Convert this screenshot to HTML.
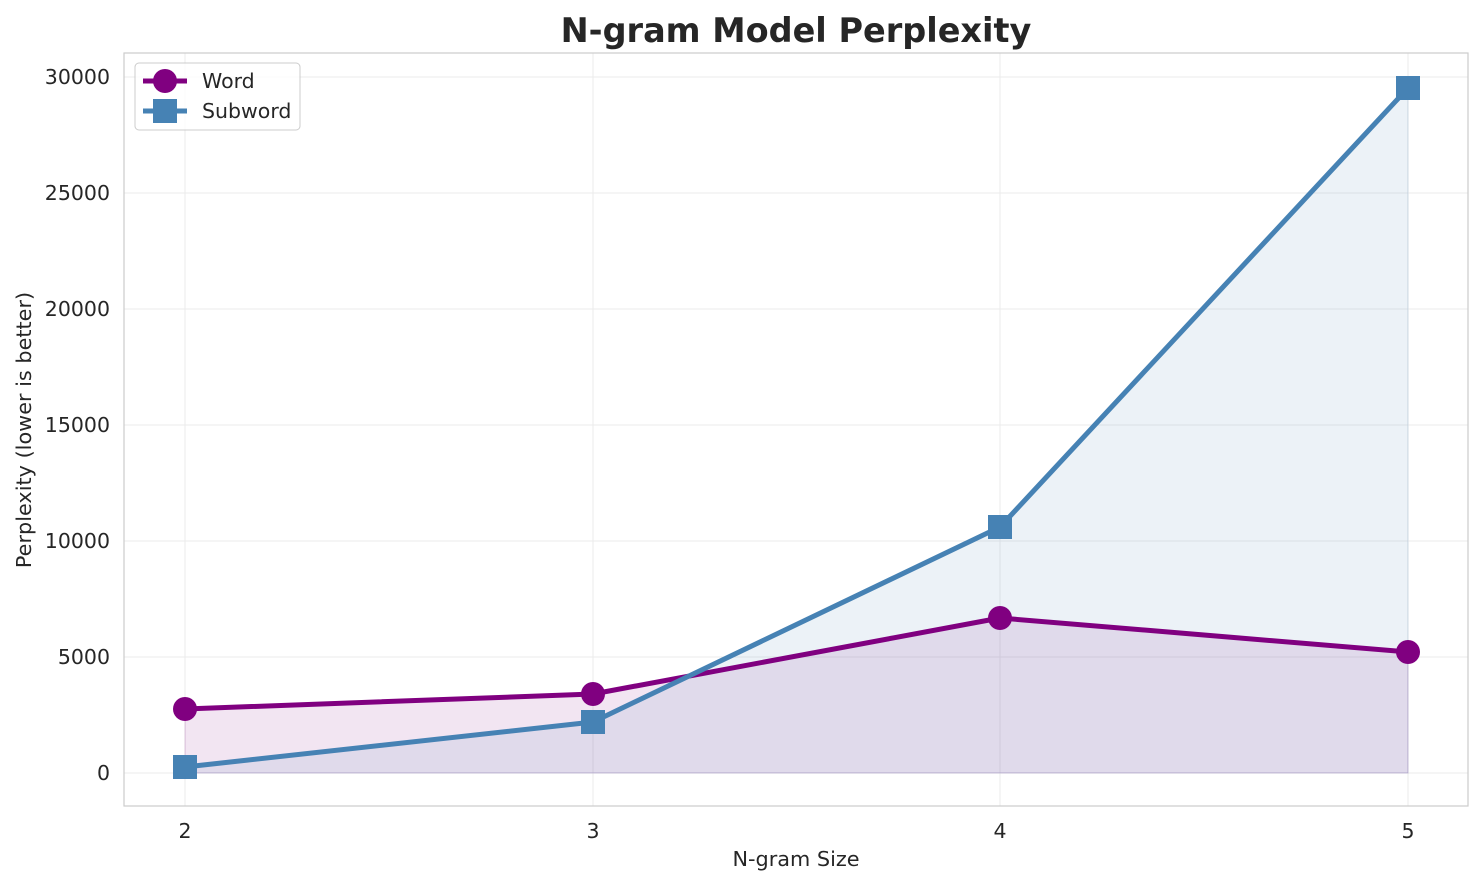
<!DOCTYPE html>
<html><head><style>body{margin:0;background:#fff}</style></head><body>
<svg width="1484" height="885" xmlns="http://www.w3.org/2000/svg" font-family="DejaVu Sans, sans-serif">
<rect width="1484" height="885" fill="#fff"/>
<g stroke="#ebebeb" stroke-width="1">
<line x1="185" y1="53" x2="185" y2="806"/><line x1="593" y1="53" x2="593" y2="806"/><line x1="1000" y1="53" x2="1000" y2="806"/><line x1="1408" y1="53" x2="1408" y2="806"/>
<line x1="124" y1="773" x2="1468" y2="773"/><line x1="124" y1="657" x2="1468" y2="657"/><line x1="124" y1="541" x2="1468" y2="541"/><line x1="124" y1="425" x2="1468" y2="425"/><line x1="124" y1="309" x2="1468" y2="309"/><line x1="124" y1="193" x2="1468" y2="193"/><line x1="124" y1="77" x2="1468" y2="77"/>
</g>
<polygon points="185,709 593,694 1000,618 1408,652 1408,773 185,773" fill="#800080" fill-opacity="0.1" stroke="#800080" stroke-opacity="0.15"/>
<polygon points="185,767 593,722 1000,527 1408,88 1408,773 185,773" fill="#4682b4" fill-opacity="0.1" stroke="#4682b4" stroke-opacity="0.15"/>
<polyline points="185,709 593,694 1000,618 1408,652" fill="none" stroke="#800080" stroke-width="5" stroke-linejoin="round"/>
<polyline points="185,767 593,722 1000,527 1408,88" fill="none" stroke="#4682b4" stroke-width="5" stroke-linejoin="round"/>
<g fill="#800080"><circle cx="185" cy="709" r="12"/><circle cx="593" cy="694" r="12"/><circle cx="1000" cy="618" r="12"/><circle cx="1408" cy="652" r="12"/></g>
<g fill="#4682b4"><rect x="173" y="755" width="24" height="24"/><rect x="581" y="710" width="24" height="24"/><rect x="988" y="515" width="24" height="24"/><rect x="1396" y="76" width="24" height="24"/></g>
<rect x="124" y="53" width="1344" height="753" fill="none" stroke="#ccc" stroke-width="1.2"/>
<g font-size="20.5" fill="#262626" text-anchor="middle">
<text x="185" y="838">2</text><text x="593" y="838">3</text><text x="1000" y="838">4</text><text x="1408" y="838">5</text>
</g>
<g font-size="20.5" fill="#262626" text-anchor="end">
<text x="110" y="780">0</text><text x="110" y="664">5000</text><text x="110" y="548">10000</text><text x="110" y="432">15000</text><text x="110" y="316">20000</text><text x="110" y="200">25000</text><text x="110" y="84">30000</text>
</g>
<text x="796" y="866" font-size="20.8" fill="#262626" text-anchor="middle">N-gram Size</text>
<text transform="translate(31,430) rotate(-90)" font-size="20.8" fill="#262626" text-anchor="middle">Perplexity (lower is better)</text>
<text x="796" y="42" font-size="33.5" font-weight="bold" fill="#262626" text-anchor="middle">N-gram Model Perplexity</text>
<rect x="135" y="63" width="165" height="67" rx="4" fill="#fff" fill-opacity="0.8" stroke="#ccc"/>
<line x1="143" y1="81" x2="187" y2="81" stroke="#800080" stroke-width="5"/><circle cx="165" cy="81" r="12" fill="#800080"/>
<line x1="143" y1="111" x2="187" y2="111" stroke="#4682b4" stroke-width="5"/><rect x="153" y="99" width="24" height="24" fill="#4682b4"/>
<text x="202" y="88" font-size="20.5" fill="#262626">Word</text>
<text x="202" y="118" font-size="20.5" fill="#262626">Subword</text>
</svg>
</body></html>
